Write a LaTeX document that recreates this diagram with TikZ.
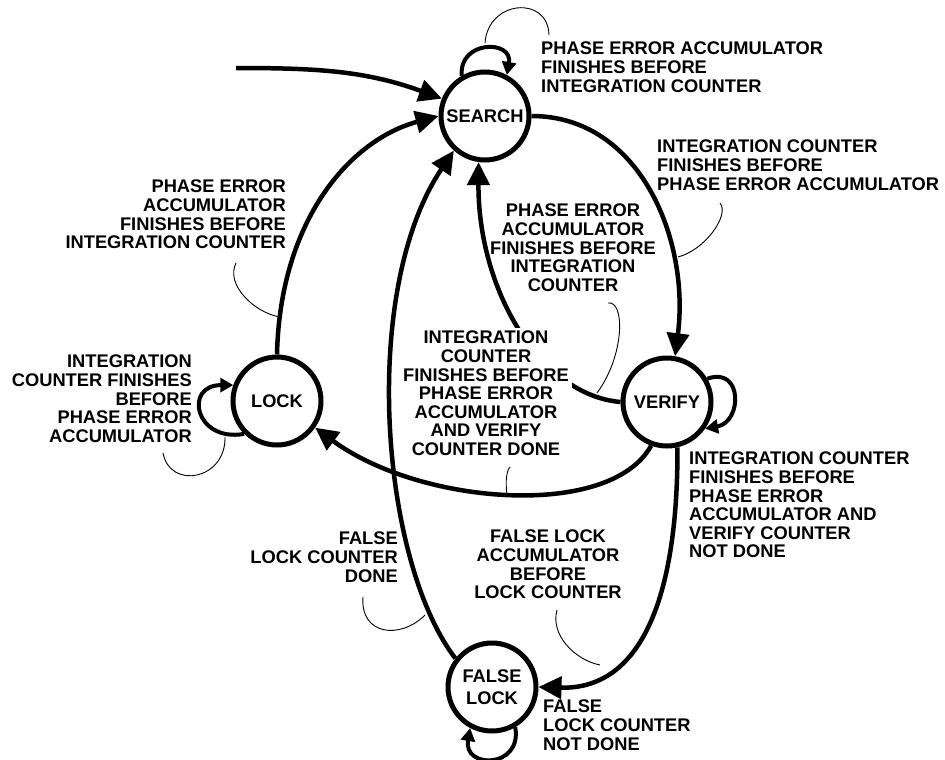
\documentclass[tikz,border=0pt]{standalone}
\usepackage{fontspec}
\setmainfont{Liberation Sans}
\usetikzlibrary{arrows.meta}

\tikzset{
  state/.style={circle, draw, line width=5pt, minimum size=88pt, inner sep=0pt, align=center},
  trans/.style={line width=4.5pt, -{Triangle[length=23pt,width=22pt]}},
  selfloop/.style={line width=4pt, -{Triangle[length=13pt,width=14pt]}},
  leader/.style={line width=0.9pt},
  lbl/.style={inner sep=0pt},
}

\begin{document}
\begin{tikzpicture}[x=1pt,y=1pt,font=\bfseries\fontsize{18.3}{18.6}\selectfont]
  \useasboundingbox (0,0) rectangle (945,-760);

  % states
  \node[state] (search) at (485,-116) {SEARCH};
  \node[state] (lock)   at (277,-401) {LOCK};
  \node[state] (verify) at (667,-402) {VERIFY};
  \node[state] (flock)  at (492,-687) {FALSE\\[4pt]LOCK};

  % transitions
  \coordinate (entry) at (236,-68);
  \draw[trans] (entry) to[out=0,in=160] (search.158);
  \draw[trans] (search.0) .. controls (640,-116) and (690,-240) .. (verify.80);
  \draw[trans] (lock.90) .. controls (280,-220) and (350,-140) .. (search.180);
  \draw[trans] (verify.180) .. controls (540,-395) and (478,-290) .. (search.262);
  \draw[trans] (verify.250) .. controls (610,-520) and (420,-505) .. (lock.-35);
  \draw[trans] (verify.-77) .. controls (678,-600) and (640,-690) .. (flock.0);
  \draw[trans] (flock.142) .. controls (380,-560) and (360,-290) .. (search.228);

  % self loops
  \draw[selfloop] (search.120) .. controls +(95:36) and +(80:36) .. (search.62);
  \draw[selfloop] (lock.225) .. controls +(190:50) and +(180:50) .. (lock.160);
  \draw[selfloop] (verify.30) .. controls +(20:38) and +(10:38) .. (verify.-35);
  \draw[selfloop] (flock.-60) .. controls +(-80:42) and +(-100:42) .. (flock.-118);

  % leader ends
  \coordinate (a1) at (485,-43);  \coordinate (b1) at (549,-35);
  \coordinate (a2) at (678,-257); \coordinate (b2) at (720,-203);
  \coordinate (a3) at (280,-317); \coordinate (b3) at (236,-263);
  \coordinate (a4) at (225,-437); \coordinate (b4) at (163,-453);
  \coordinate (a5) at (597,-393); \coordinate (b5) at (608,-303);
  \coordinate (a6) at (507,-495); \coordinate (b6) at (510,-467);
  \coordinate (a7) at (425,-615); \coordinate (b7) at (363,-597);
  \coordinate (a8) at (600,-665); \coordinate (b8) at (557,-610);

  % leaders
  \draw[leader] (a1) .. controls (488,0) and (548,5) .. (b1);
  \draw[leader] (a2) .. controls (705,-250) and (730,-215) .. (b2);
  \draw[leader] (a3) .. controls (255,-313) and (225,-285) .. (b3);
  \draw[leader] (a4) .. controls (226,-480) and (170,-490) .. (b4);
  \draw[leader] (a5) .. controls (625,-355) and (625,-300) .. (b5);
  \draw[leader] (a6) .. controls (505,-480) and (507,-470) .. (b6);
  \draw[leader] (a7) .. controls (400,-640) and (360,-635) .. (b7);
  \draw[leader] (a8) .. controls (575,-660) and (550,-635) .. (b8);

  % labels
  \node[lbl, anchor=north west, align=left] (l1) at (541,-42) {PHASE ERROR ACCUMULATOR\\FINISHES BEFORE\\INTEGRATION COUNTER};
  \node[lbl, anchor=north west, align=left] (l2) at (657,-140) {INTEGRATION COUNTER\\FINISHES BEFORE\\PHASE ERROR ACCUMULATOR};
  \node[lbl, anchor=north east, align=right] (l3) at (286,-180) {PHASE ERROR\\ACCUMULATOR\\FINISHES BEFORE\\INTEGRATION COUNTER};
  \node[lbl, anchor=north east, align=right] (l4) at (192,-355) {INTEGRATION\\COUNTER FINISHES\\BEFORE\\PHASE ERROR\\ACCUMULATOR};
  \node[lbl, anchor=north, align=center] (l5) at (573,-204) {PHASE ERROR\\ACCUMULATOR\\FINISHES BEFORE\\INTEGRATION\\COUNTER};
  \node[lbl, anchor=north, align=center, fill=white, inner sep=3pt] (l6) at (486,-328) {INTEGRATION\\COUNTER\\FINISHES BEFORE\\PHASE ERROR\\ACCUMULATOR\\AND VERIFY\\COUNTER DONE};
  \node[lbl, anchor=north west, align=left] (l7) at (689,-452) {INTEGRATION COUNTER\\FINISHES BEFORE\\PHASE ERROR\\ACCUMULATOR AND\\VERIFY COUNTER\\NOT DONE};
  \node[lbl, anchor=north east, align=right] (l8) at (398,-532) {FALSE\\LOCK COUNTER\\DONE};
  \node[lbl, anchor=north, align=center] (l9) at (548,-530) {FALSE LOCK\\ACCUMULATOR\\BEFORE\\LOCK COUNTER};
  \node[lbl, anchor=north west, align=left] (l10) at (543,-700) {FALSE\\LOCK COUNTER\\NOT DONE};
\end{tikzpicture}
\end{document}
